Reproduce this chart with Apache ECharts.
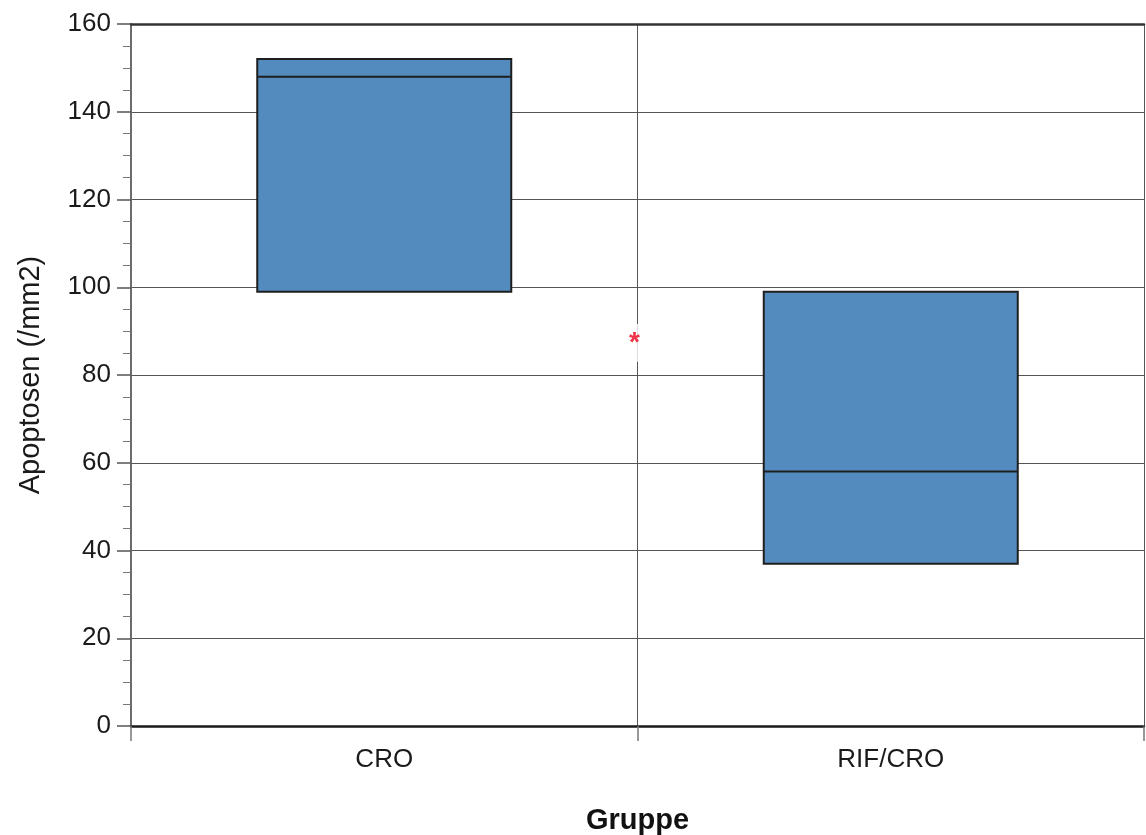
<!DOCTYPE html>
<html>
<head>
<meta charset="utf-8">
<script src="https://cdn.jsdelivr.net/npm/echarts@6/dist/echarts.min.js"></script>
<style>html,body{margin:0;padding:0;background:#fff}#c{width:1146px;height:835px}</style>
</head>
<body>
<div id="c"></div>
<script>
var categories = ['CRO', 'RIF/CRO'];
// [min, Q1, median, Q3, max]
var boxValues = [
  [99, 99, 148, 152, 152],
  [37, 37, 58, 99, 99]
];
var yTicks = [0, 20, 40, 60, 80, 100, 120, 140, 160];
var markerPosition = [1, 88];
var markerText = '*';

var font = 'Liberation Sans, Arial, Helvetica, sans-serif';
var chart = echarts.init(document.getElementById('c'));
chart.setOption({
  animation: false,
  backgroundColor: '#fff',
  grid: {left: 131, right: 2, top: 24, bottom: 109, show: false, containLabel: false, outerBoundsMode: 'none'},
  xAxis: [{
    type: 'category',
    data: categories,
    name: 'Gruppe',
    nameLocation: 'middle',
    nameGap: 80,
    nameTextStyle: {fontFamily: font, fontSize: 29, fontWeight: 'bold', color: '#111'},
    axisLine: {lineStyle: {color: '#1a1a1a', width: 2.5}},
    axisTick: {show: true, length: 15, lineStyle: {color: '#777', width: 1.5}},
    axisLabel: {fontFamily: font, fontSize: 26, color: '#1a1a1a', margin: 21},
    splitLine: {show: true, lineStyle: {color: '#555', width: 1}}
  }, {
    type: 'value', min: 0, max: 2, show: false
  }, {
    type: 'value', position: 'top', min: 0, max: 2,
    axisLine: {show: true, lineStyle: {color: '#333', width: 2.5}},
    axisTick: {show: false}, axisLabel: {show: false}, splitLine: {show: false}
  }],
  yAxis: [{
    type: 'value',
    min: yTicks[0],
    max: yTicks[yTicks.length - 1],
    interval: 20,
    name: 'Apoptosen (/mm2)',
    nameLocation: 'middle',
    nameGap: 86,
    nameTextStyle: {fontFamily: font, fontSize: 29, color: '#1a1a1a'},
    axisLine: {show: true, lineStyle: {color: '#1a1a1a', width: 2}},
    axisTick: {show: true, length: 14, lineStyle: {color: '#555', width: 1.5}},
    minorTick: {show: true, splitNumber: 4, length: 8, lineStyle: {color: '#777', width: 1}},
    axisLabel: {fontFamily: font, fontSize: 26, color: '#1a1a1a', margin: 20,
      formatter: function (v) { return yTicks.indexOf(v) >= 0 ? String(v) : ''; }},
    splitLine: {show: true, lineStyle: {color: '#555', width: 1}}
  }, {
    type: 'value', position: 'right', min: 0, max: 160,
    axisLine: {show: true, lineStyle: {color: '#888', width: 1.5}},
    axisTick: {show: false}, axisLabel: {show: false}, splitLine: {show: false}
  }],
  series: [{
    type: 'boxplot',
    xAxisIndex: 0,
    yAxisIndex: 0,
    data: boxValues,
    boxWidth: [254, 254],
    itemStyle: {color: '#548bbf', borderColor: '#1e1e1e', borderWidth: 2},
    emphasis: {disabled: true}
  }, {
    type: 'scatter',
    xAxisIndex: 1,
    yAxisIndex: 0,
    data: [markerPosition],
    symbolSize: 1,
    itemStyle: {color: 'rgba(0,0,0,0)'},
    z: 10,
    label: {
      show: true,
      position: 'inside',
      formatter: markerText,
      fontFamily: font,
      fontSize: 28,
      fontWeight: 'bold',
      color: '#f0001c',
      backgroundColor: '#fff',
      padding: [4, 4, 6, 4],
      offset: [-3, 3]
    }
  }]
});
</script>
</body>
</html>
